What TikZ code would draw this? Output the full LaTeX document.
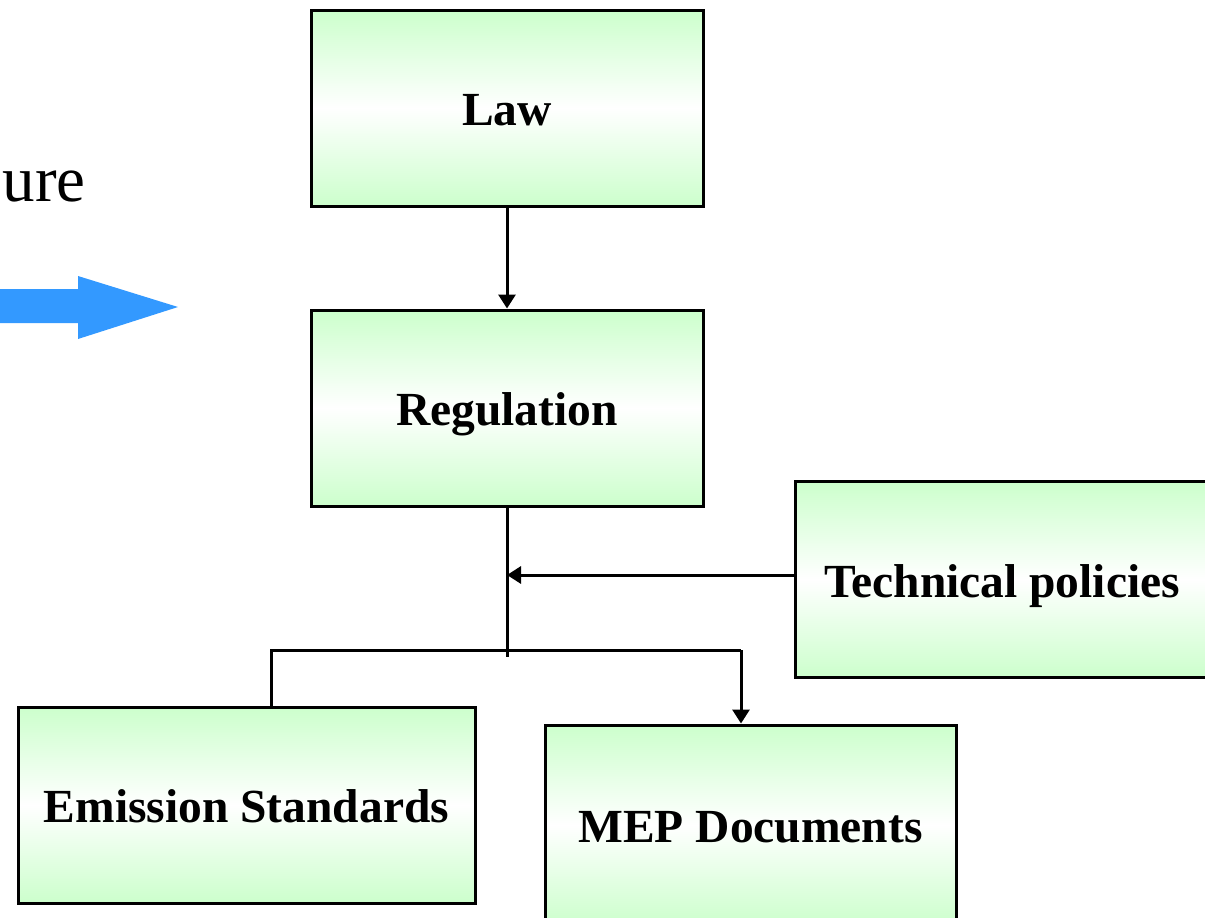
\documentclass[tikz,border=0pt]{standalone}
\usepackage{fontspec}
\setmainfont{Liberation Serif}
\usetikzlibrary{arrows.meta}
\definecolor{boxgreen}{RGB}{204,255,204}
\definecolor{arrowblue}{RGB}{51,153,255}
\begin{document}
\begin{tikzpicture}
                        [x=1pt,y=-1pt,
                        box/.style={draw=black,line width=3pt,top color=boxgreen,bottom color=boxgreen,middle color=white,
                                minimum width=392pt,minimum height=196pt,inner sep=0pt,text height=40pt,text depth=5pt,
                                font=\fontsize{47.5}{56}\selectfont\bfseries},
                        link/.style={line width=3pt},
                        arr/.style={link,-{Triangle[length=14pt,width=17pt]}}]
                        \useasboundingbox (0,0) rectangle (1205,918);
                        %Titel und Pfeil
                        \node [anchor=base east,inner sep=0pt,font=\fontsize{65}{78}\selectfont] (title) at (86,201) {ure};
                        \fill [arrowblue] (0,289) -- (78,289) -- (78,276) -- (178,307) -- (78,339) -- (78,323) -- (0,323) -- cycle;
                        %Kaesten
                        \node [box] (law) at (507,108) {Law};
                        \node [box] (reg) at (507,408) {Regulation};
                        \node [box,minimum width=414pt] (tech) at (1002,579.5) {Technical policies};
                        \node [box,minimum width=457pt] (emis) at (246.5,805) {Emission Standards};
                        \node [box,minimum width=411pt,minimum height=200pt] (mep) at (750.5,825) {MEP Documents};
                        %Verbindungen
                        \coordinate (join) at (507,575);
                        \coordinate (split) at (507,657);
                        \coordinate (forkL) at (271,650);
                        \coordinate (forkR) at (741,650);
                        \draw [arr] (law.south) -- (reg.north);
                        \draw [link] (reg.south) -- (split);
                        \draw [arr] (tech.west |- join) -- (join);
                        \draw [link] (forkL |- emis.north) -- (forkL) -- (forkR);
                        \draw [arr] (forkR) -- (forkR |- mep.north);
\end{tikzpicture}
\end{document}
